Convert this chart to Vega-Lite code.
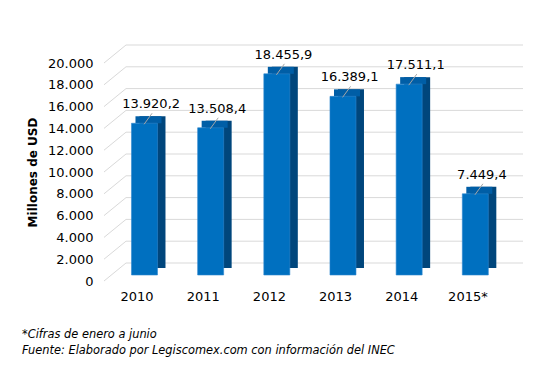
{
  "$schema": "https://vega.github.io/schema/vega-lite/v6.json",
  "autosize": "none",
  "width": 397,
  "height": 218,
  "padding": {"left": 104, "top": 63, "right": 55, "bottom": 93},
  "background": "white",
  "config": {
    "font": "DejaVu Sans",
    "view": {"stroke": null},
    "axisY": {"tickCount": 11, "labelOverlap": false, "labelFlush": false, "ticks": false, "domain": false, "grid": false, "labelFontSize": 13, "labelColor": "#000000", "labelPadding": 11},
    "axisX": {"labelOverlap": false, "ticks": false, "domain": false, "grid": false}
  },
  "title": {
    "text": ["*Cifras de enero a junio", "Fuente: Elaborado por Legiscomex.com con información del INEC"],
    "orient": "bottom",
    "anchor": "start",
    "frame": "group",
    "dx": -82,
    "offset": 26,
    "fontSize": 11.4,
    "fontStyle": "italic",
    "fontWeight": "normal",
    "lineHeight": 16,
    "color": "#000000"
  },
  "datasets": {
    "bars": [
      {"year": "2010", "value": 13920.2, "label": "13.920,2"},
      {"year": "2011", "value": 13508.4, "label": "13.508,4"},
      {"year": "2012", "value": 18455.9, "label": "18.455,9"},
      {"year": "2013", "value": 16389.1, "label": "16.389,1"},
      {"year": "2014", "value": 17511.1, "label": "17.511,1"},
      {"year": "2015*", "value": 7449.4, "label": "7.449,4"}
    ],
    "ticks": [
      {"v": 0}, {"v": 2000}, {"v": 4000}, {"v": 6000}, {"v": 8000}, {"v": 10000},
      {"v": 12000}, {"v": 14000}, {"v": 16000}, {"v": 18000}, {"v": 20000}
    ]
  },
  "layer": [
    {
      "data": {"name": "ticks"},
      "mark": {"type": "rule", "color": "#D9D9D9", "strokeWidth": 1, "yOffset": -18, "x2Offset": 22},
      "encoding": {
        "y": {"field": "v", "type": "quantitative", "scale": {"domain": [0, 20000], "nice": false},
          "axis": {"title": "Millones de USD", "titleFontSize": 12, "titleFontWeight": "bold", "titleColor": "#000000", "titlePadding": 8,
            "values": [0, 2000, 4000, 6000, 8000, 10000, 12000, 14000, 16000, 18000, 20000],
            "tickCount": 11,
            "labelExpr": "replace(format(datum.value, ',d'), ',', '.')"}},
        "x": {"value": 22},
        "x2": {"value": "width"}
      }
    },
    {
      "data": {"name": "ticks"},
      "mark": {"type": "rule", "color": "#D9D9D9", "strokeWidth": 1, "y2Offset": -18},
      "encoding": {
        "y": {"field": "v", "type": "quantitative"},
        "y2": {"field": "v"},
        "x": {"value": 0},
        "x2": {"value": 22}
      }
    },
    {
      "data": {"name": "bars"},
      "mark": {"type": "bar", "width": 26, "color": "#00467C", "xOffset": 15.4, "yOffset": -13, "y2Offset": -13},
      "encoding": {
        "x": {"field": "year", "type": "nominal", "sort": null,
          "scale": {"paddingInner": 0, "paddingOuter": 0},
          "axis": {"title": null, "labelAngle": 0, "labelFontSize": 13, "labelColor": "#000000", "labelPadding": 9}},
        "y": {"field": "value", "type": "quantitative"},
        "y2": {"datum": 0}
      }
    },
    {
      "data": {"name": "bars"},
      "mark": {"type": "bar", "width": 26, "color": "#005EA6", "xOffset": 11.4, "yOffset": -13, "y2Offset": -6},
      "encoding": {
        "x": {"field": "year", "type": "nominal", "sort": null},
        "y": {"field": "value", "type": "quantitative"},
        "y2": {"field": "value"}
      }
    },
    {
      "data": {"name": "bars"},
      "mark": {"type": "bar", "width": 26, "color": "#0070C0", "stroke": "#2E86CF", "strokeWidth": 0.6, "xOffset": 7.4, "yOffset": -6, "y2Offset": -6},
      "encoding": {
        "x": {"field": "year", "type": "nominal", "sort": null},
        "y": {"field": "value", "type": "quantitative"},
        "y2": {"datum": 0}
      }
    },
    {
      "data": {"name": "bars"},
      "mark": {"type": "rule", "color": "#A6A6A6", "strokeWidth": 1, "xOffset": 7, "yOffset": -5, "x2Offset": 15, "y2Offset": -16},
      "encoding": {
        "x": {"field": "year", "type": "nominal", "sort": null},
        "x2": {"field": "year"},
        "y": {"field": "value", "type": "quantitative"},
        "y2": {"field": "value"}
      }
    },
    {
      "data": {"name": "bars"},
      "mark": {"type": "text", "fontSize": 13, "color": "#000000", "baseline": "middle", "align": "center", "xOffset": 14, "yOffset": -25},
      "encoding": {
        "x": {"field": "year", "type": "nominal", "sort": null},
        "y": {"field": "value", "type": "quantitative"},
        "text": {"field": "label"}
      }
    }
  ]
}
